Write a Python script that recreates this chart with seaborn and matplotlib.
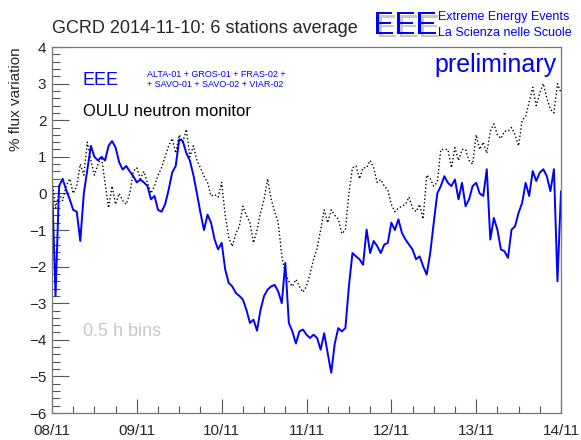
import numpy as np
import pandas as pd
from matplotlib import pyplot as plt
import matplotlib.patheffects as pe
import seaborn as sns

# hours since 08/11 00:00
hours = np.arange(0, 145)

# EEE 6 stations average, % flux variation
eee = [0.3, -2.8, 0.2, 0.4, 0.1, -0.16, -0.45, -0.5, -1.3, 0.0, 0.65, 1.3, 1.0, 0.9, 1.0, 0.9,
       1.3, 1.43, 1.25, 0.85, 0.65, 0.75, 0.6, 0.47, 0.3, 0.38, 0.3, 0.2, -0.16, -0.07, -0.45,
       -0.5, -0.3, 0.1, 0.57, 0.75, 1.48,
       1.43, 1.1, 0.9, 0.5, 0.0, -0.53, -1.0, -0.58, -0.8, -1.26, -1.53, -1.35, -2.08, -2.45,
       -2.54, -2.72, -2.8, -2.9, -3.18, -3.54, -3.45, -3.75, -3.18, -2.8, -2.63, -2.54, -2.5,
       -2.68, -3.0, -1.9, -3.54, -3.77, -4.1, -3.77, -3.72, -3.86,
       -3.95, -3.86, -3.95, -4.27, -3.82, -4.37, -4.9, -4.1, -3.68, -3.77, -3.68, -2.54, -1.63,
       -1.72, -1.8, -1.95, -0.99, -1.63, -1.3, -1.44, -1.63, -1.4, -1.35, -0.8, -1.0, -0.71,
       -1.08, -1.26, -1.4, -1.53, -1.8, -1.72, -1.99, -2.22, -1.63, -0.8,
       0.0, 0.2, 0.47, 0.29, 0.2, 0.38, -0.16, 0.29, -0.35, -0.16, 0.2, 0.29, 0.0, -0.07, 0.66,
       -1.26, -0.67, -0.99, -1.53, -1.58, -1.76, -0.99, -0.9, -0.53, -0.26, 0.29, -0.07, 0.61,
       0.34, 0.57, 0.66, 0.47, 0.06, 0.66, -2.4, 0.06]

# OULU neutron monitor, % flux variation
oulu = [0.4, -0.4, 0.0, -0.2, 0.2, 0.4, 0.0, 0.2, 0.8, 0.5, 1.4, 0.9, 0.5, 0.8, 1.0, 0.3, -0.4,
        0.2, -0.3, 0.0, -0.2, -0.3, 0.0, 0.6, 0.7, 0.4, 0.6, 0.3, 0.0, 0.2, 0.5, 0.7, 1.0, 1.3,
        1.5, 1.1, 1.6,
        1.4, 1.75, 1.0, 1.3, 0.9, 0.7, 0.47, 0.3, -0.07, -0.03, -0.1, 0.3, -0.6, -1.2, -1.45,
        -1.1, -0.9, -0.35, -0.6, -0.8, -1.35, -1.0, -0.53, -0.16, 0.4, -0.16, -0.5, -0.8, -1.7,
        -2.2, -2.4, -2.54, -2.35, -2.54, -2.7, -2.54,
        -2.2, -1.8, -1.5, -1.0, -0.45, -0.8, -0.45, -0.6, -0.7, -1.1, -1.0, 0.0, 0.7, 0.75, 0.4,
        0.7, 0.7, 0.9, 0.7, 0.3, 0.38, 0.2, 0.1, -0.3, -0.5, -0.4, -0.35, -0.3, -0.1, -0.4,
        -0.5, -0.3, -0.7, 0.5, 0.4, 0.2,
        0.3, 1.2, 1.2, 1.2, 0.7, 1.25, 0.9, 1.2, 1.2, 0.9, 0.8, 1.6, 1.2, 1.4, 1.1, 1.7, 1.9,
        1.6, 1.5, 1.7, 1.7, 1.8, 1.6, 1.3, 2.0, 2.1, 2.5, 2.9, 2.4, 2.75, 3.0, 2.6, 2.3, 2.2,
        3.0, 2.75]

day_labels = ['08/11', '09/11', '10/11', '11/11', '12/11', '13/11', '14/11']

sns.set_style("ticks")
plt.rcParams['font.family'] = ['Liberation Sans', 'DejaVu Sans']

df = pd.DataFrame({'day': hours / 24.0, 'eee': eee, 'oulu': oulu})

W, H = 581, 440
fig = plt.figure(figsize=(W / 100, H / 100), dpi=100)
ax = fig.add_axes([52 / W, 1 - 413 / H, (561 - 52) / W, (413 - 47) / H])

sns.lineplot(data=df, x='day', y='oulu', ax=ax, color='black', linestyle=':', lw=1.0)
sns.lineplot(data=df, x='day', y='eee', ax=ax, color='#0000ff', lw=1.4)

ax.set_xlim(0, 6)
ax.set_ylim(-6, 4)
ax.set_xlabel('')
ax.set_ylabel('')
ax.set_xticks(range(7))
ax.set_xticklabels(day_labels, fontsize=11)
ax.set_xticks(np.arange(0, 6.01, 0.25), minor=True)
ax.set_yticks(range(-6, 5))
ax.set_yticklabels([str(v).replace('-', '\u2212') for v in range(-6, 5)], fontsize=11)
ax.set_yticks(np.arange(-6, 4.01, 0.2), minor=True)
ax.tick_params(which='both', direction='in', color='#555555')
ax.tick_params(axis='y', which='major', length=12, width=0.8, pad=4)
ax.tick_params(axis='y', which='minor', length=6, width=0.8)
ax.tick_params(axis='x', which='major', length=10, width=0.8, pad=8)
ax.tick_params(axis='x', which='minor', length=5, width=0.8)
for s in ax.spines.values():
    s.set_color('#777777')
    s.set_linewidth(0.9)

def px(x, y):
    return x / W, 1 - y / H

fig.text(*px(16, 47), '% flux variation', rotation=90, ha='center', va='top', fontsize=11)
fig.text(*px(52, 33), 'GCRD 2014-11-10: 6 stations average', fontsize=13, va='baseline')

# EEE logo, grey drop shadow as a path effect
shadow = [pe.withSimplePatchShadow(offset=(2.2, -2.2), shadow_rgbFace='#c8c8c8', alpha=1.0),
          pe.Normal()]
fig.text(*px(373, 34), 'EEE', fontsize=23, color='#0000ff', va='baseline',
         path_effects=shadow)
fig.text(*px(438, 20), 'Extreme Energy Events', fontsize=9, color='#0000ff', va='baseline')
fig.text(*px(438, 36), 'La Scienza nelle Scuole', fontsize=9, color='#0000ff', va='baseline')

fig.text(*px(557, 72), 'preliminary', fontsize=18, color='#0000ff', ha='right', va='baseline')
fig.text(*px(83, 85), 'EEE', fontsize=13, color='#0000ff', va='baseline')
fig.text(*px(147, 77), 'ALTA-01 + GROS-01 + FRAS-02 +', fontsize=6.5, color='#0000ff',
         va='baseline')
fig.text(*px(147, 87), '+ SAVO-01 + SAVO-02 + VIAR-02', fontsize=6.5, color='#0000ff',
         va='baseline')
fig.text(*px(83, 116), 'OULU neutron monitor', fontsize=12, color='black', va='baseline')
fig.text(*px(83, 336), '0.5 h bins', fontsize=13, color='#c8c8c8', va='baseline')

fig.savefig('out.png', dpi=100)
